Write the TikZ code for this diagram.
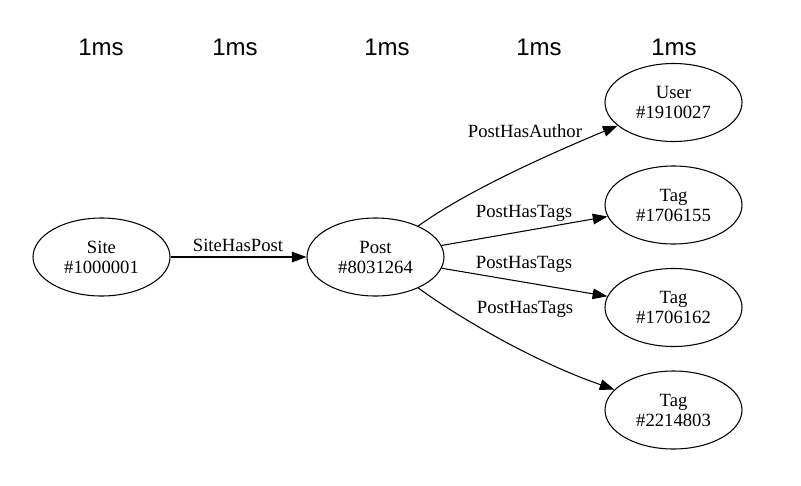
\documentclass[tikz,border=0pt]{standalone}
\usepackage{fontspec}
\setmainfont{Liberation Serif}
\newfontfamily\labelsans{Liberation Sans}
\usetikzlibrary{shapes.geometric,arrows.meta}
\begin{document}
\begin{tikzpicture}[x=0.75pt,y=-0.75pt,
  ent/.style={ellipse,draw,line width=0.8pt,minimum width=102.75pt,minimum height=58.5pt,inner sep=0pt,align=center,font=\fontsize{14}{15}\selectfont},
  rel/.style={-{Triangle[length=11pt,width=8pt]},line width=0.8pt},
  elab/.style={anchor=base,inner sep=0pt,font=\fontsize{14}{15}\selectfont},
  tlab/.style={anchor=base,inner sep=0pt,font=\labelsans\fontsize{18}{20}\selectfont}]
\useasboundingbox (0,0) rectangle (801,486);
% timing labels
\node[tlab] (t1) at (101,55.5) {1ms};
\node[tlab] (t2) at (235,55.5) {1ms};
\node[tlab] (t3) at (387,55.5) {1ms};
\node[tlab] (t4) at (539,55.5) {1ms};
\node[tlab] (t5) at (674,55.5) {1ms};
% entities
\node[ent] (site) at (101.5,257) {Site\\\#1000001};
\node[ent] (post) at (375.5,257) {Post\\\#8031264};
\node[ent] (user) at (673.5,102.5) {User\\\#1910027};
\node[ent] (tag1) at (673.5,205) {Tag\\\#1706155};
\node[ent] (tag2) at (673.5,307.5) {Tag\\\#1706162};
\node[ent] (tag3) at (673.5,410) {Tag\\\#2214803};
% relations
\draw[rel] (site) -- (post);
\draw[rel] (post) -- (tag1);
\draw[rel] (post) -- (tag2);
\draw[rel] (post) .. controls (461,195) and (535,160) .. (user);
\draw[rel] (post) .. controls (461,319) and (535,362) .. (tag3);
% relation labels
\node[elab] (l0) at (238,251) {SiteHasPost};
\node[elab] (l1) at (525,137) {PostHasAuthor};
\node[elab] (l2) at (524,217) {PostHasTags};
\node[elab] (l3) at (524,268) {PostHasTags};
\node[elab] (l4) at (525,313) {PostHasTags};
\end{tikzpicture}
\end{document}
